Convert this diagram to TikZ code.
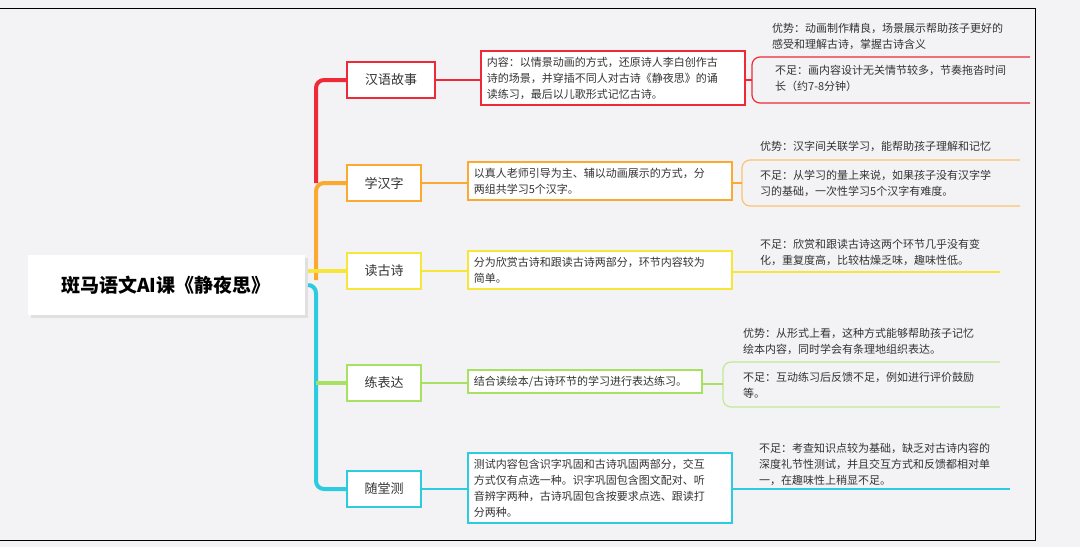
\documentclass[tikz,border=0pt]{standalone}
\usepackage{fontspec}
\setmainfont{Noto Sans CJK SC}
\usepackage{xcolor}
\definecolor{zred}{HTML}{EE2A36}
\definecolor{zorange}{HTML}{FBA931}
\definecolor{zyellow}{HTML}{F7E63A}
\definecolor{zgreen}{HTML}{A8E063}
\definecolor{zcyan}{HTML}{2CCBE0}
\definecolor{zbg}{HTML}{F3F3F6}
\definecolor{ztext}{HTML}{333333}
\tikzset{
  topic/.style={draw=#1, line width=1.5pt, fill=white, minimum width=74pt, minimum height=36pt, font=\fontsize{13}{15}\selectfont, text=ztext},
  content/.style={draw=#1, line width=1.5pt, fill=white, anchor=north west, align=left, inner sep=6pt, font=\fontsize{11}{16}\selectfont, text=ztext},
  remark/.style={anchor=north west, align=left, inner sep=2pt, font=\fontsize{11}{16}\selectfont, text=ztext},
  trunk/.style={line width=4pt, rounded corners=8pt},
  twig/.style={line width=1.2pt}
}
\begin{document}
\begin{tikzpicture}[x=1pt,y=-1pt]
\useasboundingbox (0,0) rectangle (1080,547);
\fill[zbg] (0,0) rectangle (1080,547);
\draw[line width=1pt] (0,8) -- (1035,8) -- (1035,540) -- (0,540);

% root
\fill[black!12] (31,258) rectangle (308,318);
\node[fill=white, minimum width=277pt, minimum height=60pt, font=\fontsize{19}{22}\selectfont\bfseries] (root) at (166,285) {斑马语文AI课《静夜思》};

% topics
\node[topic=zred, minimum width=88pt] (t1) at (391,80) {汉语故事};
\node[topic=zorange] (t2) at (384,183) {学汉字};
\node[topic=zyellow] (t3) at (384,271) {读古诗};
\node[topic=zgreen] (t4) at (384,383) {练表达};
\node[topic=zcyan] (t5) at (384,489) {随堂测};

% trunk
\draw[trunk, zorange] (316,280) -- (316,183) -- (t2.west);
\draw[trunk, zred] (316,183) -- (316,80) -- (t1.west);
\draw[trunk, zyellow] (308,271) -- (t3.west);
\draw[trunk, zcyan] (308,285) -- (316,285) -- (316,489) -- (t5.west);
\draw[trunk, zgreen] (316,383) -- (t4.west);

% contents
\node[content=zred, text width=252pt] (c1) at (480,50) {内容：以情景动画的方式，还原诗人李白创作古\\诗的场景，并穿插不同人对古诗《静夜思》的诵\\读练习，最后以儿歌形式记忆古诗。};
\node[content=zorange, text width=252pt] (c2) at (467,161) {以真人老师引导为主、辅以动画展示的方式，分\\两组共学习5个汉字。};
\node[content=zyellow, text width=252pt] (c3) at (467,250) {分为欣赏古诗和跟读古诗两部分，环节内容较为\\简单。};
\node[content=zgreen, text width=222pt] (c4) at (467,369) {结合读绘本/古诗环节的学习进行表达练习。};
\node[content=zcyan, text width=252pt] (c5) at (467,452) {测试内容包含识字巩固和古诗巩固两部分，交互\\方式仅有点选一种。识字巩固包含图文配对、听\\音辨字两种，古诗巩固包含按要求点选、跟读打\\分两种。};
\foreach \i/\c in {1/zred,2/zorange,3/zyellow,4/zgreen,5/zcyan}
  \draw[twig, \c] (t\i.east) -- (t\i.east -| c\i.west);

% remarks
\node[remark] (p1) at (770,21) {优势：动画制作精良，场景展示帮助孩子更好的\\感受和理解古诗，掌握古诗含义};
\node[remark] (n1) at (773,63) {不足：画内容设计无关情节较多，节奏拖沓时间\\长（约7-8分钟）};
\draw[twig, zred, rounded corners=8pt] (1030,57) -- (752,57) -- (752,103) -- (1030,103);
\draw[twig, zred] (c1.east |- 0,80) -- (752,80);

\node[remark] (p2) at (758,139) {优势：汉字间关联学习，能帮助孩子理解和记忆};
\node[remark] (n2) at (758,168) {不足：从学习的量上来说，如果孩子没有汉字学\\习的基础，一次性学习5个汉字有难度。};
\draw[twig, zorange!70, rounded corners=8pt] (1020,160) -- (742,160) -- (742,206) -- (1020,206);
\draw[twig, zorange] (c2.east |- 0,183) -- (742,183);

\node[remark] (n3) at (758,237) {不足：欣赏和跟读古诗这两个环节几乎没有变\\化，重复度高，比较枯燥乏味，趣味性低。};
\draw[twig, zyellow] (c3.east |- 0,272) -- (1000,272);

\node[remark] (p4) at (741,326) {优势：从形式上看，这种方式能够帮助孩子记忆\\绘本内容，同时学会有条理地组织表达。};
\node[remark] (n4) at (741,370) {不足：互动练习后反馈不足，例如进行评价鼓励\\等。};
\draw[twig, zgreen!70, rounded corners=8pt] (1000,362) -- (723,362) -- (723,407) -- (1000,407);
\draw[twig, zgreen] (c4.east |- 0,384) -- (723,384);

\node[remark] (n5) at (757,441) {不足：考查知识点较为基础，缺乏对古诗内容的\\深度礼节性测试，并且交互方式和反馈都相对单\\一，在趣味性上稍显不足。};
\draw[twig, zcyan] (c5.east |- 0,489) -- (1010,489);
\end{tikzpicture}
\end{document}
